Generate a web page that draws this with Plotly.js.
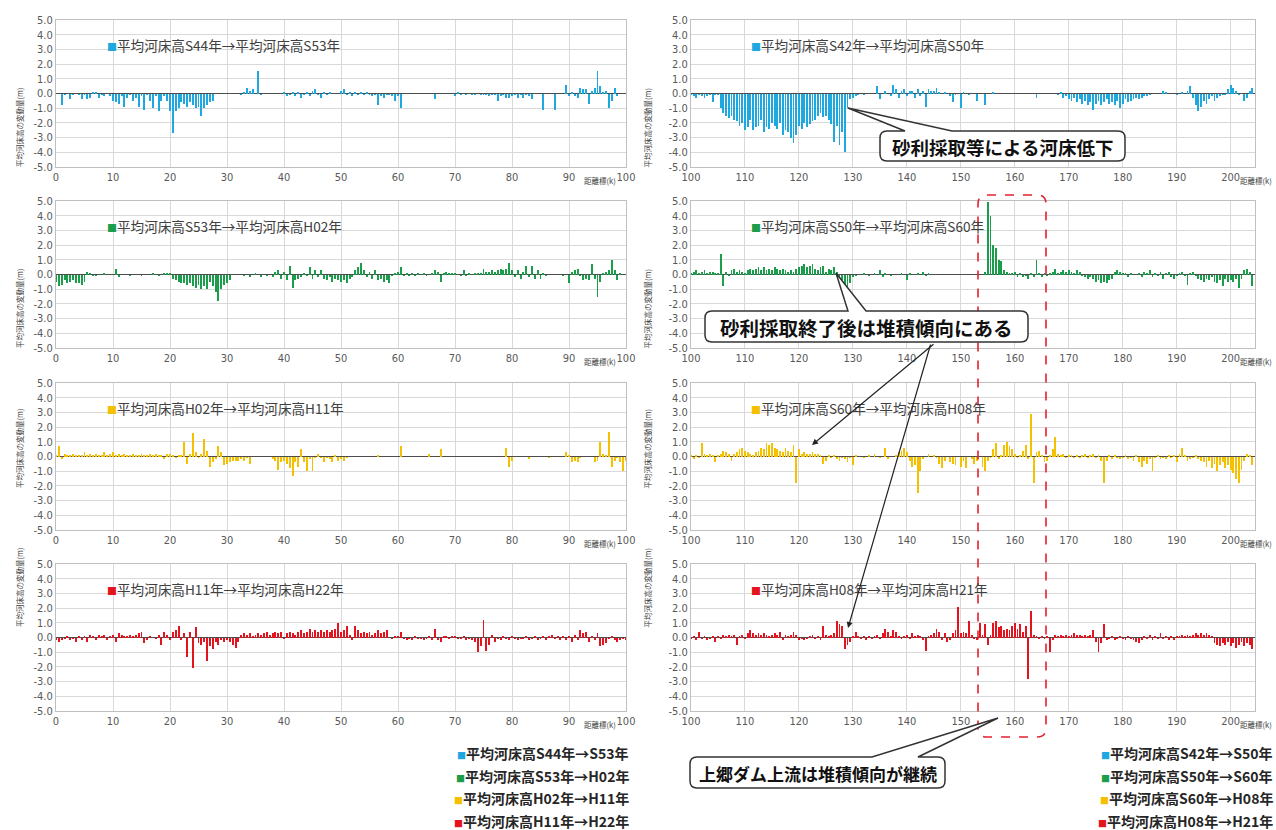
<!DOCTYPE html>
<html><head><meta charset="utf-8">
<script src="https://cdn.plot.ly/plotly-3.0.1.min.js"></script>
<style>html,body{margin:0;padding:0;background:#fff;}#chart{width:1276px;height:830px;}</style>
</head><body><div id="chart"></div>
<script>
// ---------- DATA (bed-level change in m, every 0.5 km) ----------
// left column: 0.0 – 100.0 km ; right column: 100.0 – 204.0 km
const kmStep = 0.5;
const leftStart = 0, rightStart = 100;

const dzS44_S53 = [
 0,0,-0.8,-0.1,0,-0.4,-0.1,0,-0.1,-0.4,-0.1,-0.4,-0.3,0.1,0.1,-0.3,-0.1,-0.2,0,-0.2,
 -0.5,-0.6,-0.7,-0.2,-0.9,-0.3,-0.1,-0.5,-0.3,-0.9,-0.2,-1.1,-0.1,-0.5,-1.0,-0.2,-1.2,-0.5,-0.2,-0.5,
 -1.2,-2.7,-1.2,-1.0,-0.6,-0.7,-0.9,-0.6,-0.8,-1.0,-0.9,-1.5,-1.0,-0.8,-0.6,-0.5,0,0,0,0,
 0,0,0,0,0,-0.1,0.1,0.4,0.2,0.3,0,1.5,-0.1,0,0,0,0,0,0,0,
 0.1,-0.2,-0.1,0.1,-0.2,0.1,-0.3,-0.1,0.1,-0.2,0.2,0.3,-0.1,-0.3,0.1,-0.1,0.1,0,0,0,
 0.2,0.3,-0.1,0.1,-0.2,0.1,-0.1,0.1,-0.1,0.1,-0.1,-0.2,-0.1,-0.8,-0.2,-0.3,-0.1,-0.1,-0.2,-0.5,
 -0.2,-1.0,0,0,0,0,0,0,0,0,0,0,0,-0.4,0,0,0,0,0,0,
 -0.2,0.1,-0.1,0,-0.1,0,-0.1,-0.1,0,-0.1,-0.1,-0.1,-0.2,-0.1,-0.1,-0.5,-0.2,-0.1,-0.3,-0.3,
 -0.2,-0.1,-0.3,-0.1,-0.3,-0.1,-0.2,-0.4,0,0,0,-1.1,0,0,0,-1.1,0,0,0,0.6,
 -0.2,0.1,-0.2,-0.3,0.4,0.3,0.3,-0.7,0.2,0.4,1.5,0.5,0.1,0.2,-1.0,-0.5,0.4,-0.2,0,0,
 0];

const dzS42_S50 = [
 -0.1,-0.2,-0.3,-0.1,-0.2,-0.3,-0.2,-0.1,-0.6,-0.1,-0.1,-1.0,-1.3,-1.5,-1.7,-1.5,-1.8,-1.9,-2.2,-2.0,
 -2.5,-2.3,-1.8,-2.5,-2.3,-2.2,-1.8,-2.6,-2.3,-2.4,-2.0,-2.2,-2.4,-2.0,-2.8,-2.5,-2.6,-3.0,-3.4,-2.8,
 -2.2,-2.4,-2.0,-2.3,-2.1,-1.9,-1.8,-1.5,-1.3,-1.6,-1.5,-1.8,-2.1,-3.3,-2.2,-3.5,-2.6,-4.0,-1.0,-0.4,
 -0.3,-0.2,-0.1,0,-0.1,0,0,0,0,0.5,-0.4,0,0.2,0,-0.2,0.6,0.3,-0.3,0.2,0.3,
 -0.2,0.2,0.2,-0.3,0.3,-0.2,0.2,-0.9,0.3,0.2,0.2,0.4,0.1,0,0.1,0,-0.2,-0.6,-0.1,0,
 -1.0,0.1,0,-0.1,0,0,-0.5,0,0,-0.8,0,0,0.1,0,0,0,0,0,0,0,
 0,0,0,0,0,0,0,0,-0.3,0,0,0,0,0,0,0,-0.1,0.1,-0.3,-0.2,
 -0.4,-0.5,-0.3,-0.6,-0.4,-0.7,-0.5,-0.8,-0.6,-1.1,-0.7,-0.5,-0.8,-0.6,-0.4,-0.7,-0.6,-0.8,-0.5,-1.0,
 -0.7,-0.4,-0.6,-0.5,-0.4,-0.3,-0.4,-0.3,-0.2,-0.2,-0.1,0,0,0,0,0.2,0.1,0,0,0,
 -0.1,0,0.1,0,0.2,0.5,-0.3,-0.8,-1.2,-0.9,-0.5,-0.7,-0.4,-0.2,-0.5,-0.3,-0.2,-0.1,-0.1,0.3,
 0.6,0.4,0.2,-0.1,0,-0.5,-0.3,0.2,0.4];

const dzS53_H02 = [
 -0.5,-0.8,-0.7,-0.4,-0.6,-0.5,-0.4,-0.6,-0.6,-0.7,-0.5,0.2,0.1,-0.1,-0.1,0,0,0.1,0,0,
 0,0.4,-0.2,0,0,0,-0.1,0,0,0,-0.1,0,0,0,0.1,0,-0.1,0,0.1,0.1,
 0.1,-0.3,-0.4,-0.5,-0.6,-0.6,-0.7,-0.6,-0.8,-0.9,-0.7,-1.0,-0.8,-1.0,-0.5,-0.8,-1.2,-1.8,-1.0,-0.7,
 -0.6,-0.4,0,0,0,0,-0.1,0,-0.2,0,0.1,0,-0.2,0,-0.1,0,-0.2,0.2,0.3,-0.3,
 0.2,-0.4,0.6,-0.9,-0.4,-0.3,-0.2,0.1,-0.1,0.5,-0.3,0.3,-0.2,0.3,-0.3,-0.4,-0.2,-0.5,-0.3,-0.4,
 -0.5,-0.4,-0.6,-0.3,-0.2,0.3,0.5,0.8,0.3,-0.2,0.2,-0.3,0.3,-0.4,-0.3,-0.5,-0.4,-0.6,-0.1,0.1,
 0.2,0.5,-0.1,0.1,-0.1,0.1,-0.1,0.1,0,0.1,-0.1,0,0.1,0.3,0.2,-0.5,0.1,0.2,0.1,0.1,
 0.1,0,-0.1,0.3,-0.1,0.1,0,0.1,0.1,0.1,0.4,0.2,0.2,0.3,0.2,0.3,0.4,0.3,0.4,0.8,
 0.3,-0.2,0.3,-0.3,0.2,0.6,-0.2,0.6,-0.3,0.3,-0.3,0.1,-0.1,0,0,0,0,0,-0.1,0,
 -0.6,0.2,0.3,0.4,-0.1,-0.4,-0.3,-0.4,0.7,-0.3,-1.5,-0.5,0.1,0.2,0.3,1.0,0.3,-0.4,0.1,0,
 0];

const dzS50_S60 = [
 0.1,0.2,0.3,0.1,0.2,0.3,0.1,0.2,0.2,0.1,0.1,1.4,-0.8,0.2,-0.1,0.3,0.4,0.2,0.3,0.2,
 0.1,0.3,0.4,0.3,0.4,0.5,0.3,0.5,0.3,0.4,0.3,0.5,0.4,0.3,0.4,0.3,0.2,0.3,0.2,0.4,
 0.5,0.6,0.7,0.5,0.6,0.7,0.4,0.3,0.5,0.6,0.2,0.4,0.3,0.5,0.2,-0.2,-0.4,-0.7,-0.9,-0.6,
 -0.2,-0.1,0,0,0.1,0,-0.1,0,0.1,0,0.3,-0.2,0.1,0,-0.1,0,0,0,0.1,0,
 -0.4,0.1,0,0,0.1,0,0.2,-0.1,0.1,0,0,0,0,0,0,0,0,0,0,0,
 0,0,0,0,0,0,0,0,0,0.2,4.9,4.0,2.0,1.8,1.0,0.9,0.3,0.2,0.1,0.1,
 0.2,-0.2,0.1,-0.2,-0.1,-0.3,0.1,-0.2,1.0,0.1,-0.2,0.1,-0.1,0.1,0.2,0.4,0.1,0.2,0.3,0.2,
 0.3,0.2,0.1,0.3,0.2,-0.1,-0.2,-0.3,-0.2,-0.3,-0.5,-0.4,-0.6,-0.5,-0.6,-0.4,-0.3,0.2,0.3,0.2,
 0.1,0.1,-0.2,0.1,0,0,0.1,-0.2,0.2,0.1,0.3,-0.2,0.1,-0.1,0.2,-0.3,0.1,0.2,-0.2,-0.3,
 -0.1,0.1,0.2,-0.1,-0.7,0.1,0.2,-0.1,-0.3,-0.4,-0.5,-0.3,-0.4,-0.2,-0.5,-0.6,-0.4,-0.8,-0.3,-0.5,
 -0.4,-0.5,-0.3,-0.9,-0.3,0.3,0.4,0.2,-0.8];

const dzH02_H11 = [
 0.1,0.7,-0.2,0.2,0.1,0.1,0.2,0.1,0.1,0.1,0.3,0.1,0.2,0.1,0.2,0.1,0.1,0.3,0.1,0.2,
 0.3,0.1,0.2,0.1,0.2,0.1,0.1,0.2,0.1,0.1,0.2,0.1,0.1,0.2,0.1,0.2,0.1,0.1,-0.2,0.2,
 0.2,0.1,-0.1,0.1,0.1,1.0,-0.5,0.2,1.6,0.3,-0.1,0.2,1.2,0.4,-0.7,-0.4,-0.2,0.7,0.3,-0.6,
 -0.5,-0.4,-0.3,-0.3,-0.3,-0.2,-0.3,-0.1,-0.5,0,0,0,0,0,0,0,-0.2,-0.3,-0.9,-0.4,
 -0.3,-0.5,-0.8,-1.3,-0.4,-0.7,0.5,-0.4,-1.0,-0.2,-1.0,-0.1,0.2,-0.1,-0.4,-0.1,-0.2,-0.4,0.1,-0.3,
 -0.2,-0.3,-0.1,0,0,0,0,0,0,0,0,0,0,0.1,0,0,0,0,0,0,
 0,0.7,0,0,0,0,0,0,0,0,0,0.2,0,0,0,0.5,0,0,0,0,
 0,0,0,0,0,0,0,0,0,0,0,0,0,0,0,0,0,0,0.6,-0.7,
 -0.3,0,0,0,0,0,-0.2,0,0,0,0,0,0,-0.1,0,0,0,0,0,0.3,
 0.1,-0.4,-0.3,-0.4,-0.1,0,0,0,0,-0.4,-0.3,1.0,0.2,0.1,1.7,-0.7,-0.3,-0.1,-0.4,-1.0,
 -0.3];

const dzS60_H08 = [
 0.1,-0.2,0.1,-0.1,0.9,0.2,0.1,0.2,0.1,-0.4,0.1,0.2,0.4,0.3,0.2,-0.3,0.2,0.3,0.5,0.6,
 0.4,0.3,0.2,0.1,0.3,0.4,0.6,0.5,0.9,0.8,0.9,0.6,0.5,0.4,0.3,0.6,0.4,0.3,0.8,-1.8,
 0.5,0.2,0.3,0.2,0.2,0.3,0.2,0.2,0.1,-0.5,-0.3,0.1,-0.1,0.1,-0.2,-0.3,-0.1,-0.2,-0.4,-0.1,
 -0.6,0.1,0,0,-0.1,0,0.1,0,0.2,0,-0.1,0,0.6,-0.2,0,0,0.1,0.3,0.4,0.6,
 0.3,-0.3,-0.7,-0.6,-2.5,-1.0,-0.2,0,0.2,0,0.1,-0.1,-0.5,-0.8,-0.3,0,-0.4,-0.5,-0.6,0,
 -0.7,-0.3,-0.8,0,-0.2,-0.5,-0.3,0,-0.7,-1.0,-0.3,-0.1,0.5,0.9,-0.2,0.1,0.8,1.0,0.7,0.5,
 0.2,-0.1,0.1,0.4,0.8,-0.2,2.9,-1.8,0.3,0.4,0.1,-0.4,-0.3,0.1,0.5,1.3,0.2,0.1,0.2,-0.1,
 0.1,0.1,-0.1,0.1,-0.1,0.1,0.2,-0.1,0.1,0.2,-0.1,0.1,-0.3,-1.8,-0.3,0.1,-0.2,0.1,-0.1,-0.2,
 -0.1,0.1,-0.2,-0.1,-0.3,0.1,-0.4,-0.7,-0.3,-0.5,-0.2,-1.0,-0.1,0.1,-0.2,-0.1,-0.2,0.1,-0.1,0.1,
 -0.4,0.2,0.6,0.1,-0.3,-0.2,-0.1,0.1,-0.2,-0.3,-0.4,-0.7,-0.3,-0.8,-0.5,-1.0,-0.6,-0.4,-0.8,-0.6,
 -0.9,-1.1,-1.5,-1.8,-0.9,-0.3,0.2,0.1,-0.6];

const dzH11_H22 = [
 -0.2,-0.3,-0.2,-0.1,0.1,-0.2,-0.1,-0.3,0.1,-0.2,0.1,-0.3,0.2,0.1,-0.2,0.2,0.1,0.2,-0.2,0.1,
 0.2,-0.3,0.3,0.2,0.1,0.1,0.2,0.1,0.2,0.3,0.4,-0.4,-0.2,0.1,0,-0.1,0.2,-0.5,0.4,0.2,
 -0.2,0.4,0.5,0.8,-0.2,0.3,-1.3,0.4,-2.1,0.7,-0.4,-0.5,-0.3,-1.6,-0.6,-0.8,-0.3,-0.5,-0.2,-0.3,
 -0.2,-0.3,-0.5,-0.7,-0.3,0.2,0.3,0.2,0.3,0.1,0.2,0.3,0.2,0.3,0.4,0.2,0.3,0.4,0.3,0.4,
 -0.1,0.3,0.4,0.3,0.2,0.4,0.5,0.3,0.4,0.6,0.4,0.5,0.4,0.5,0.4,0.5,0.4,0.5,0.6,1.0,
 0.4,0.5,0.8,0.2,-0.2,0.8,0.5,0.3,0.4,0.3,0.4,0.2,0.3,0.5,0.3,0.4,0.5,0,-0.1,0.1,
 0.1,0.4,-0.1,-0.2,-0.1,-0.2,0.1,-0.1,-0.1,-0.2,-0.1,0.1,-0.2,0.6,-0.2,-0.3,0.1,0.1,-0.1,0.1,
 0.1,-0.1,-0.1,0.1,-0.2,-0.1,-0.2,-0.3,-1.0,-0.6,1.2,-0.9,-0.5,0.2,-0.3,-0.1,-0.2,0.1,-0.1,-0.2,
 0.1,-0.1,-0.2,-0.1,-0.1,0.1,-0.2,-0.1,0.1,-0.2,-0.1,0.1,-0.2,0.1,0.2,-0.1,0.1,-0.2,0.1,-0.2,
 0.1,-0.3,0.2,-0.2,0.5,0.3,0.4,-0.3,0.1,-0.2,0.3,-0.6,-0.5,-0.4,-0.1,0.1,-0.2,-0.3,-0.2,-0.1,
 -0.2];

const dzH08_H21 = [
 -0.1,0.1,-0.2,0.4,-0.1,0.1,-0.2,-0.1,0.1,-0.3,0.1,-0.1,0.2,0.1,0.2,0.1,0.2,-0.5,0.1,0.2,
 -0.1,0.3,0.5,0.3,0.2,0.3,0.2,0.3,0.2,0.1,0.2,0.3,0.2,0.4,-0.2,0.2,0.1,0.2,0.4,0.2,
 -0.2,-0.1,-0.2,-0.1,0.1,0.2,-0.1,0.1,-0.2,0.8,0.2,0.1,0.2,0.3,1.1,0.9,0.8,-0.8,-0.5,-0.3,
 0.1,0.4,0.1,-0.1,0.1,-0.2,0.1,-0.1,0.1,0.2,-0.1,0.3,0.6,0.4,0.1,0.5,0.4,0.1,-0.1,0.1,
 0.2,-0.1,0.3,0.1,0.2,0.1,-0.2,-0.9,0.1,0.2,0.3,0.6,0.4,-0.2,0.3,-0.3,-0.2,0.3,0.5,2.1,
 0.3,0.4,0.3,1.1,0.2,-0.1,-0.2,1.0,0.2,0.9,-0.5,0.2,1.0,1.1,0.7,0.8,0.5,0.6,0.5,0.8,
 1.0,0.6,0.9,0.4,0.8,-2.8,1.8,0.2,0.1,-0.1,0.1,-0.1,0.1,-1.0,-0.2,0.2,0.1,0.2,0.1,0.2,
 0.1,0.2,0.3,0.2,0.2,0.1,0.2,0.1,0.2,0.5,-0.3,-1.0,-0.4,0.9,-0.2,-0.1,0.1,-0.2,-0.1,0.1,
 -0.1,-0.2,0.1,-0.1,-0.2,-0.3,-0.4,-0.2,0.1,-0.1,0.2,-0.2,0.1,-0.1,0.3,-0.1,0.1,-0.2,0.1,-0.2,
 0.1,0.1,0.2,0.1,0.2,0.1,0.2,0.3,0.2,0.3,0.2,0.3,0.2,0.1,-0.4,-0.5,-0.6,-0.4,-0.5,-0.3,
 -0.6,-0.4,-0.7,-0.5,-0.3,-0.6,-0.4,-0.5,-0.8];

const seriesNames = [
 '平均河床高S44年→平均河床高S53年','平均河床高S42年→平均河床高S50年',
 '平均河床高S53年→平均河床高H02年','平均河床高S50年→平均河床高S60年',
 '平均河床高H02年→平均河床高H11年','平均河床高S60年→平均河床高H08年',
 '平均河床高H11年→平均河床高H22年','平均河床高H08年→平均河床高H21年'];
const legendLeft = ['平均河床高S44年→S53年','平均河床高S53年→H02年','平均河床高H02年→H11年','平均河床高H11年→H22年'];
const legendRight = ['平均河床高S42年→S50年','平均河床高S50年→S60年','平均河床高S60年→H08年','平均河床高H08年→H21年'];
const yTicks = [-5,-4,-3,-2,-1,0,1,2,3,4,5];
const yTickText = ['-5.0','-4.0','-3.0','-2.0','-1.0','0.0','1.0','2.0','3.0','4.0','5.0'];
const yTitle = '平均河床高の変動量(m)';
const xTitle = '距離標(k)';
const callouts = ['砂利採取等による河床低下','砂利採取終了後は堆積傾向にある','上郷ダム上流は堆積傾向が継続'];

// ---------- STYLE / LAYOUT ----------
const W = 1276, H = 830;
const px = x => x / W, py = y => 1 - y / H;
const colors = ['#1FA7DF','#1B9D4B','#F5C000','#E3141E'];
const seriesData = [dzS44_S53, dzS42_S50, dzS53_H02, dzS50_S60, dzH02_H11, dzS60_H08, dzH11_H22, dzH08_H21];
const rowTops = [20, 201, 383, 564];
const plotH = 147;
const colX = [[56, 626], [691, 1255]];
const tickFont = {family: '"Liberation Sans Narrow","DejaVu Sans Condensed","Noto Sans",sans-serif', size: 11, color: '#595959'};
const jp = '"Noto Sans CJK JP","Noto Sans",sans-serif';

const traces = [], layout = {
  width: W, height: H, margin: {l:0, r:0, t:0, b:0},
  paper_bgcolor: '#fff', plot_bgcolor: '#fff', showlegend: false,
  bargap: 0, annotations: [], shapes: []
};

for (let i = 0; i < 8; i++) {
  const row = Math.floor(i / 2), col = i % 2, n = i + 1;
  const xa = n === 1 ? 'x' : 'x' + n, ya = n === 1 ? 'y' : 'y' + n;
  traces.push({
    type: 'bar', x0: col === 0 ? leftStart : rightStart, dx: kmStep,
    y: seriesData[i], width: 0.34, xaxis: xa, yaxis: ya, name: seriesNames[i],
    marker: {color: colors[row], line: {width: 0}}, hoverinfo: 'x+y'
  });
  const top = rowTops[row];
  layout['xaxis' + (n === 1 ? '' : n)] = {
    domain: [px(colX[col][0]), px(colX[col][1])], anchor: ya,
    range: col === 0 ? [0, 100] : [100, 204.5], tick0: 0, dtick: 10,
    showgrid: true, gridcolor: '#D9D9D9', gridwidth: 1, zeroline: false,
    showline: true, linecolor: '#BFBFBF', linewidth: 1, mirror: true,
    ticks: '', tickfont: tickFont, fixedrange: true
  };
  layout['yaxis' + (n === 1 ? '' : n)] = {
    domain: [py(top + plotH), py(top)], anchor: xa, range: [-5, 5],
    tickvals: yTicks, ticktext: yTickText,
    showgrid: true, gridcolor: '#D9D9D9', gridwidth: 1,
    zeroline: true, zerolinecolor: '#4D4D4D', zerolinewidth: 1,
    showline: true, linecolor: '#BFBFBF', linewidth: 1, mirror: true,
    ticks: '', tickfont: tickFont, fixedrange: true
  };
  // in-panel series label
  layout.annotations.push({
    xref: xa, yref: ya, x: col === 0 ? 8.6 : 110.8, y: 3.3, xanchor: 'left', yanchor: 'middle',
    showarrow: false, font: {family: jp, size: 13.6, color: '#404040'},
    text: '<span style="color:' + colors[row] + ';font-size:10px">■</span>' + seriesNames[i]
  });
  // y title
  layout.annotations.push({
    xref: 'paper', yref: 'paper', x: px(colX[col][0] - 44), y: py(top + plotH / 2 - 8),
    textangle: -90, showarrow: false, font: {family: jp, size: 7.5, color: '#404040'}, text: yTitle
  });
  // x axis title near the end of axis
  layout.annotations.push({
    xref: 'paper', yref: 'paper', x: px(col === 0 ? 600 : 1256), y: py(top + plotH + 13),
    xanchor: 'center', yanchor: 'middle', showarrow: false,
    font: {family: jp, size: 7.5, color: '#404040'}, text: xTitle
  });
}

// bottom legends
for (let k = 0; k < 4; k++) {
  const yy = 753 + k * 22.5;
  [[631, legendLeft[k]], [1275, legendRight[k]]].forEach(([xx, t]) => {
    layout.annotations.push({
      xref: 'paper', yref: 'paper', x: px(xx), y: py(yy), xanchor: 'right', yanchor: 'middle',
      showarrow: false, font: {family: jp, size: 14, color: '#262626'},
      text: '<span style="color:' + colors[k] + ';font-size:9px">■</span><b>' + t + '</b>'
    });
  });
}

// callout bubbles
function bubble(x0, y0, x1, y1, r, b1, b2, ax, ay) {
  const P = (x, y) => px(x) + ',' + py(y);
  return 'M' + P(x0 + r, y0) + ' L' + P(b1, y0) + ' L' + P(ax, ay) + ' L' + P(b2, y0) +
    ' L' + P(x1 - r, y0) + ' Q' + P(x1, y0) + ' ' + P(x1, y0 + r) +
    ' L' + P(x1, y1 - r) + ' Q' + P(x1, y1) + ' ' + P(x1 - r, y1) +
    ' L' + P(x0 + r, y1) + ' Q' + P(x0, y1) + ' ' + P(x0, y1 - r) +
    ' L' + P(x0, y0 + r) + ' Q' + P(x0, y0) + ' ' + P(x0 + r, y0) + ' Z';
}
function rrect(x0, y0, x1, y1, r) {
  const P = (x, y) => px(x) + ',' + py(y);
  return 'M' + P(x0 + r, y0) + ' L' + P(x1 - r, y0) + ' Q' + P(x1, y0) + ' ' + P(x1, y0 + r) +
    ' L' + P(x1, y1 - r) + ' Q' + P(x1, y1) + ' ' + P(x1 - r, y1) +
    ' L' + P(x0 + r, y1) + ' Q' + P(x0, y1) + ' ' + P(x0, y1 - r) +
    ' L' + P(x0, y0 + r) + ' Q' + P(x0, y0) + ' ' + P(x0 + r, y0) + ' Z';
}
const bubbleLine = {color: '#333', width: 1.5};
const boxes = [
  {b: [880, 131, 1125, 161, 7, 905, 952, 848, 108], t: callouts[0], fs: 18.5},
  {b: [705, 311, 1028, 342, 7, 848, 866, 836, 273], t: callouts[1], fs: 19.5},
  {b: [690, 757, 945, 788, 7, 872, 918, 998, 718], t: callouts[2], fs: 17}
];
// red dashed frame
layout.shapes.push({type: 'path', xref: 'paper', yref: 'paper', path: rrect(978, 195, 1046, 737, 9),
  line: {color: '#E5202E', width: 1.6, dash: 'dash'}, fillcolor: 'rgba(0,0,0,0)'});
boxes.forEach(bx => {
  const a = bx.b;
  layout.shapes.push({type: 'path', xref: 'paper', yref: 'paper',
    path: bubble(a[0], a[1], a[2], a[3], a[4], a[5], a[6], a[7], a[8]),
    line: bubbleLine, fillcolor: '#fff'});
  layout.annotations.push({xref: 'paper', yref: 'paper', x: px((a[0] + a[2]) / 2), y: py((a[1] + a[3]) / 2 + 1),
    xanchor: 'center', yanchor: 'middle', showarrow: false,
    font: {family: jp, size: bx.fs, color: '#111'}, text: '<b>' + bx.t + '</b>'});
});
// arrows from the middle callout
[[812, 445, 935, 343], [848, 628, 931, 343]].forEach(([hx, hy, tx, ty]) => {
  layout.annotations.push({xref: 'paper', yref: 'paper', x: px(hx), y: py(hy), ax: tx - hx, ay: ty - hy,
    text: '', showarrow: true, arrowhead: 2, arrowsize: 1, arrowwidth: 1.2, arrowcolor: '#222', standoff: 0});
});

Plotly.newPlot('chart', traces, layout, {displayModeBar: false, staticPlot: true});
</script></body></html>
